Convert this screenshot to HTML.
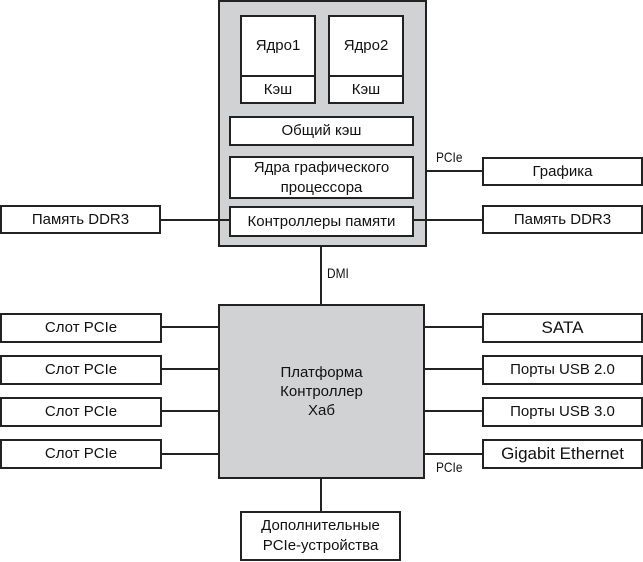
<!DOCTYPE html>
<html><head><meta charset="utf-8"><style>
body{margin:0;width:643px;height:562px;background:#fff;position:relative;overflow:hidden;font-family:"Liberation Sans",sans-serif;font-size:15px;color:#111}
.b{position:absolute;box-sizing:border-box;border:2px solid #222;background:#fff;display:flex;align-items:center;justify-content:center;text-align:center;line-height:20px}
.g{background:#d1d2d4}
.h{position:absolute;height:2px;background:#222}
.v{position:absolute;width:2px;background:#222}
.t{position:absolute;font-size:14px;transform:scaleX(.85);transform-origin:left}
</style></head><body>
<div class="b g" style="left:218px;top:0;width:209px;height:247px"></div>
<div class="b" style="left:240px;top:15px;width:76px;height:62px">Ядро1</div>
<div class="b" style="left:240px;top:75px;width:76px;height:29px">Кэш</div>
<div class="b" style="left:328px;top:15px;width:76px;height:62px">Ядро2</div>
<div class="b" style="left:328px;top:75px;width:76px;height:29px">Кэш</div>
<div class="b" style="left:229px;top:116px;width:185px;height:30px">Общий кэш</div>
<div class="b" style="left:229px;top:156px;width:185px;height:43px">Ядра графического<br>процессора</div>
<div class="b" style="left:229px;top:206px;width:185px;height:31px">Контроллеры памяти</div>

<div class="b" style="left:0;top:205px;width:161px;height:29px">Память DDR3</div>
<div class="b" style="left:482px;top:157px;width:161px;height:29px">Графика</div>
<div class="b" style="left:482px;top:205px;width:161px;height:29px">Память DDR3</div>
<div class="h" style="left:160px;top:219px;width:70px"></div>
<div class="h" style="left:413px;top:219px;width:70px"></div>
<div class="h" style="left:426px;top:170px;width:57px"></div>
<div class="t" style="left:436px;top:149px">PCIe</div>
<div class="v" style="left:320px;top:246px;height:60px"></div>
<div class="t" style="left:327px;top:265px">DMI</div>

<div class="b g" style="left:218px;top:304px;width:207px;height:175px;line-height:19px">Платформа<br>Контроллер<br>Хаб</div>
<div class="b" style="left:0;top:313px;width:162px;height:30px">Слот PCIe</div>
<div class="b" style="left:0;top:355px;width:162px;height:30px">Слот PCIe</div>
<div class="b" style="left:0;top:397px;width:162px;height:30px">Слот PCIe</div>
<div class="b" style="left:0;top:439px;width:162px;height:30px">Слот PCIe</div>
<div class="h" style="left:161px;top:326px;width:58px"></div>
<div class="h" style="left:161px;top:368px;width:58px"></div>
<div class="h" style="left:161px;top:410px;width:58px"></div>
<div class="h" style="left:161px;top:453px;width:58px"></div>
<div class="b" style="left:482px;top:313px;width:161px;height:30px;font-size:17px">SATA</div>
<div class="b" style="left:482px;top:355px;width:161px;height:30px">Порты USB 2.0</div>
<div class="b" style="left:482px;top:397px;width:161px;height:30px">Порты USB 3.0</div>
<div class="b" style="left:482px;top:439px;width:161px;height:30px;font-size:17px">Gigabit Ethernet</div>
<div class="h" style="left:424px;top:326px;width:59px"></div>
<div class="h" style="left:424px;top:368px;width:59px"></div>
<div class="h" style="left:424px;top:410px;width:59px"></div>
<div class="h" style="left:424px;top:453px;width:59px"></div>
<div class="t" style="left:436px;top:459px">PCIe</div>
<div class="v" style="left:320px;top:478px;height:34px"></div>
<div class="b" style="left:240px;top:511px;width:161px;height:50px">Дополнительные<br>PCIe-устройства</div>
</body></html>
